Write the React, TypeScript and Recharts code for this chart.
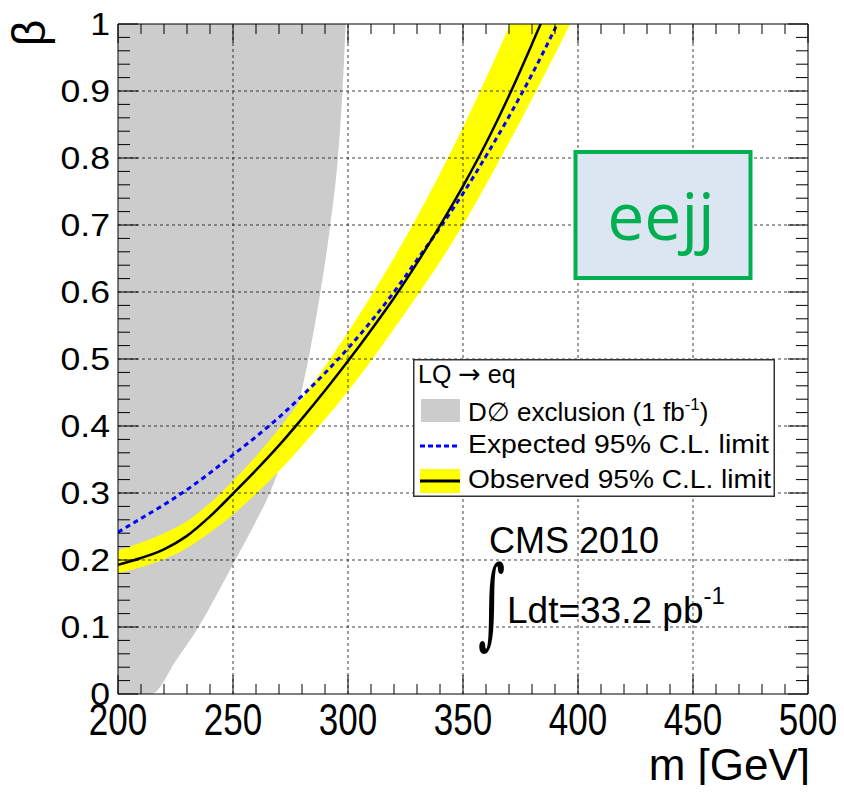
import { ComposedChart, Area, Line, XAxis, YAxis, ReferenceLine, ReferenceArea, Legend } from 'recharts';

// axis ticks
const X_TICKS = [200, 250, 300, 350, 400, 450, 500];
const Y_TICKS = [0, 0.1, 0.2, 0.3, 0.4, 0.5, 0.6, 0.7, 0.8, 0.9, 1];
const X_MINOR = Array.from({ length: 31 }, (_, i) => 200 + i * 10);
const Y_MINOR = Array.from({ length: 51 }, (_, i) => Number((i * 0.02).toFixed(2)));

// D0 exclusion: lower edge of the excluded region
const D0_MASS = [200, 214.5, 225.2, 235, 243.2, 251, 258.8, 266, 271.5, 276, 282.8, 288, 292.3, 295.6, 297.6, 299];
const D0_BETA = [0, 0, 0.05, 0.1, 0.15, 0.2, 0.25, 0.3, 0.35, 0.4, 0.5, 0.6, 0.7, 0.8, 0.9, 1];

// observed limit
const OBS_MASS = [200, 210, 220, 230, 240, 250, 260, 270, 280, 290, 300, 310, 320, 330, 340, 350, 360, 370, 380, 390];
const OBS_BETA = [0.193, 0.203, 0.216, 0.236, 0.265, 0.299, 0.334, 0.371, 0.411, 0.453, 0.497, 0.543, 0.591, 0.643, 0.699, 0.758, 0.822, 0.893, 0.97, 1.05];

// expected limit
const EXP_MASS = [200, 210, 220, 230, 240, 250, 260, 270, 280, 290, 300, 310, 320, 330, 340, 350, 360, 370, 380, 390, 400];
const EXP_BETA = [0.2415, 0.262, 0.2825, 0.305, 0.33, 0.357, 0.384, 0.413, 0.445, 0.479, 0.516, 0.556, 0.6, 0.648, 0.696, 0.747, 0.803, 0.862, 0.925, 0.993, 1.065];

// yellow band around the observed limit
const BAND_MASS = [200, 210, 220, 230, 240, 250, 260, 270, 280, 290, 300, 310, 320, 330, 340, 350, 360, 370, 380, 390, 400];
const BAND_LOW = [0.18, 0.189, 0.201, 0.218, 0.241, 0.268, 0.299, 0.333, 0.37, 0.41, 0.452, 0.497, 0.545, 0.594, 0.645, 0.7, 0.76, 0.823, 0.888, 0.955, 1.024];
const BAND_HIGH = [0.214, 0.226, 0.24, 0.258, 0.285, 0.318, 0.355, 0.396, 0.441, 0.489, 0.54, 0.594, 0.651, 0.712, 0.777, 0.846, 0.919, 0.996, 1.077, 1.162, 1.25];

const d0Rows = D0_MASS.map((m, i) => ({ m, range: [D0_BETA[i], 1] }));
const bandRows = BAND_MASS.map((m, i) => ({ m, range: [BAND_LOW[i], BAND_HIGH[i]] }));
const obsRows = OBS_MASS.map((m, i) => ({ m, beta: OBS_BETA[i] }));
const expRows = EXP_MASS.map((m, i) => ({ m, beta: EXP_BETA[i] }));

const W = 828;
const H = 777;
const PLOT_W = 690;
const PLOT_H = 670;
const FONT = '"Liberation Sans", Arial, sans-serif';

const XTick = (props: any) => {
  const { x, y, payload } = props;
  const v = payload.value;
  const major = X_TICKS.includes(v);
  const len = major ? 19 : 10;
  return (
    <g>
      <line x1={x} y1={y} x2={x} y2={y - len} stroke="#000" />
      <line x1={x} y1={y - PLOT_H} x2={x} y2={y - PLOT_H + len} stroke="#000" />
      {major && (
        <text
          transform={`translate(${x},${y + 41}) scale(1,1.25)`}
          textAnchor="middle"
          fontSize={35}
          fontFamily={FONT}
          fill="#000"
        >
          {v}
        </text>
      )}
    </g>
  );
};

const YTick = (props: any) => {
  const { x, y, payload } = props;
  const v = payload.value;
  const major = Y_TICKS.includes(v);
  const len = major ? 20 : 12;
  const label = v === 0 || v === 1 ? String(v) : v.toFixed(1);
  return (
    <g>
      <line x1={x} y1={y} x2={x + len} y2={y} stroke="#000" />
      <line x1={x + PLOT_W} y1={y} x2={x + PLOT_W - len} y2={y} stroke="#000" />
      {major && (
        <text
          transform={`translate(${x - 8},${y + 11}) scale(1.15,1)`}
          textAnchor="end"
          fontSize={31}
          fontFamily={FONT}
          fill="#000"
        >
          {label}
        </text>
      )}
    </g>
  );
};

const LegendBox = () => (
  <svg width={362} height={138} style={{ display: 'block' }}>
    <rect x={0.75} y={0.75} width={360.5} height={136.5} fill="#fff" stroke="#333" strokeWidth={1.5} />
    <g fontFamily={FONT} fill="#000">
      <text x={5} y={24} fontSize={25}>
        LQ <tspan fontFamily="'DejaVu Sans', sans-serif" fontSize={27}>→</tspan> eq
      </text>
      <rect x={8} y={40} width={39} height={23} fill="#cccccc" />
      <text x={55} y={62} fontSize={26}>
        D∅ exclusion (1 fb<tspan fontSize={17} dy={-11}>-1</tspan>
        <tspan dy={11}>)</tspan>
      </text>
      <line x1={7} y1={87} x2={47} y2={87} stroke="#0000ff" strokeWidth={3} strokeDasharray="5 3" />
      <text x={55} y={94} fontSize={26} textLength={301} lengthAdjust="spacingAndGlyphs">Expected 95% C.L. limit</text>
      <rect x={7} y={110} width={40} height={24} fill="#ffff00" />
      <line x1={7} y1={122} x2={47} y2={122} stroke="#000" strokeWidth={3} />
      <text x={55} y={129} fontSize={26} textLength={303} lengthAdjust="spacingAndGlyphs">Observed 95% C.L. limit</text>
    </g>
  </svg>
);

export default function App() {
  const gridX = X_TICKS.filter((v) => v !== 200 && v !== 500);
  const gridY = Y_TICKS.filter((v) => v !== 0 && v !== 1);

  return (
    <div style={{ position: 'relative', width: W, height: H }}>
      <ComposedChart width={W} height={H} margin={{ top: 16, right: 28, bottom: 0, left: 0 }}>
        <XAxis
          type="number"
          dataKey="m"
          domain={[200, 500]}
          ticks={X_MINOR}
          interval={0}
          allowDataOverflow
          height={91}
          axisLine={false}
          tickLine={false}
          tickSize={0}
          tickMargin={0}
          tick={<XTick />}
        />
        <YAxis
          type="number"
          domain={[0, 1]}
          ticks={Y_MINOR}
          interval={0}
          allowDataOverflow
          width={110}
          axisLine={false}
          tickLine={false}
          tickSize={0}
          tickMargin={0}
          tick={<YTick />}
        />
        <Area
          data={d0Rows}
          dataKey="range"
          type="monotone"
          fill="#cccccc"
          fillOpacity={1}
          stroke="none"
          isAnimationActive={false}
        />
        <Area
          data={bandRows}
          dataKey="range"
          type="monotone"
          fill="#ffff00"
          fillOpacity={1}
          stroke="none"
          isAnimationActive={false}
        />
        {gridX.map((v) => (
          <ReferenceLine key={`gx-${v}`} x={v} stroke="#000" strokeOpacity={0.75} strokeDasharray="3 3" />
        ))}
        {gridY.map((v) => (
          <ReferenceLine key={`gy-${v}`} y={v} stroke="#000" strokeOpacity={0.75} strokeDasharray="3 3" />
        ))}
        <Line
          data={expRows}
          dataKey="beta"
          type="monotone"
          stroke="#0000ff"
          strokeWidth={3}
          strokeDasharray="5 4"
          dot={false}
          isAnimationActive={false}
        />
        <Line
          data={obsRows}
          dataKey="beta"
          type="monotone"
          stroke="#000"
          strokeWidth={2.5}
          dot={false}
          isAnimationActive={false}
        />
        <ReferenceArea x1={200} x2={500} y1={0} y2={1} fill="none" stroke="#000" strokeWidth={1} />
        <Legend
          layout="horizontal"
          verticalAlign="middle"
          align="center"
          wrapperStyle={{ left: 405, top: 351, width: 362, height: 138 }}
          content={() => <LegendBox />}
        />
      </ComposedChart>
      <svg
        width={W}
        height={H}
        style={{ position: 'absolute', left: 0, top: 0, pointerEvents: 'none', overflow: 'visible' }}
      >
        <g fontFamily={FONT} fill="#000">
          <text transform="translate(37,25) rotate(-90)" textAnchor="middle" fontSize={46}>β</text>
          <text x={802} y={772} textAnchor="end" fontSize={44}>m [GeV]</text>
          <text x={481} y={545} fontSize={36}>CMS 2010</text>
          <text x={499} y={615} fontSize={37}>
            Ldt=33.2 pb<tspan fontSize={24} dy={-19}>-1</tspan>
          </text>
          <text transform="translate(470,628) scale(1,1.9)" fontSize={52} fontFamily="'DejaVu Serif', serif">∫</text>
        </g>
        <rect x={567.5} y={144} width={175} height={126} fill="#dce6f2" stroke="#00b050" strokeWidth={4} />
        <text x={653} y={232} textAnchor="middle" fontSize={66} fontFamily="'Open Sans', sans-serif" fill="#00b050">
          eejj
        </text>
      </svg>
    </div>
  );
}
